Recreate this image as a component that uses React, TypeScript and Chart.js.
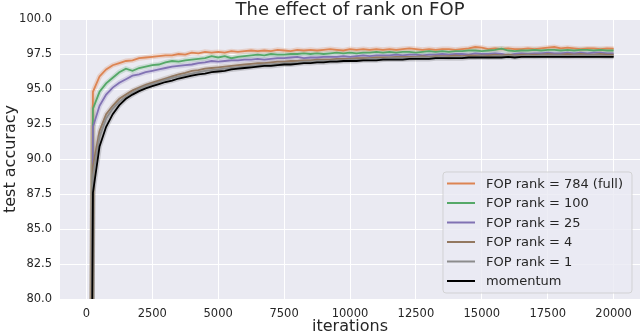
import React, { useEffect, useRef } from "react";
import { Chart, registerables } from "chart.js";

Chart.register(...registerables);

const iterations = [
  0, 250, 500, 750, 1000, 1250, 1500, 1750, 2000, 2250, 2500, 2750, 3000, 3250, 3500, 3750,
  4000, 4250, 4500, 4750, 5000, 5250, 5500, 5750, 6000, 6250, 6500, 6750, 7000, 7250, 7500, 7750,
  8000, 8250, 8500, 8750, 9000, 9250, 9500, 9750, 10000, 10250, 10500, 10750, 11000, 11250, 11500, 11750,
  12000, 12250, 12500, 12750, 13000, 13250, 13500, 13750, 14000, 14250, 14500, 14750, 15000, 15250, 15500, 15750,
  16000, 16250, 16500, 16750, 17000, 17250, 17500, 17750, 18000, 18250, 18500, 18750, 19000, 19250, 19500, 19750, 20000,
];

const rank784 = [
  10, 94.8, 95.9, 96.4, 96.7, 96.85, 97.0, 97.05, 97.2, 97.25, 97.3, 97.35, 97.4, 97.4, 97.5, 97.45,
  97.6, 97.55, 97.65, 97.6, 97.65, 97.6, 97.7, 97.65, 97.7, 97.75, 97.7, 97.75, 97.7, 97.8, 97.75, 97.7,
  97.8, 97.75, 97.8, 97.75, 97.8, 97.85, 97.8, 97.75, 97.85, 97.8, 97.85, 97.8, 97.85, 97.8, 97.85, 97.8,
  97.85, 97.9, 97.85, 97.8, 97.85, 97.8, 97.85, 97.85, 97.8, 97.85, 97.9, 98.0, 97.95, 97.85, 97.9, 97.85,
  97.9, 97.85, 97.85, 97.9, 97.85, 97.9, 97.95, 98.0, 97.9, 97.95, 97.9, 97.85, 97.9, 97.9, 97.85, 97.9, 97.88,
];

const rank100 = [
  10, 93.6, 94.8, 95.4, 95.8, 96.2, 96.45, 96.3, 96.5, 96.6, 96.7, 96.75, 96.9, 97.0, 96.95, 97.05,
  97.1, 97.15, 97.2, 97.35, 97.25, 97.35, 97.2, 97.3, 97.35, 97.4, 97.45, 97.4, 97.5, 97.45, 97.45, 97.5,
  97.5, 97.55, 97.5, 97.55, 97.5, 97.55, 97.6, 97.55, 97.6, 97.55, 97.6, 97.6, 97.65, 97.6, 97.65, 97.6,
  97.65, 97.65, 97.6, 97.65, 97.7, 97.65, 97.7, 97.65, 97.7, 97.7, 97.75, 97.75, 97.7, 97.75, 97.8, 97.88,
  97.75, 97.7, 97.75, 97.75, 97.8, 97.75, 97.8, 97.8, 97.75, 97.8, 97.75, 97.8, 97.8, 97.75, 97.8, 97.75, 97.75,
];

const rank25 = [
  10, 92.3, 93.8, 94.6, 95.1, 95.45, 95.7, 95.95, 96.05, 96.2, 96.3, 96.4, 96.5, 96.6, 96.65, 96.7,
  96.75, 96.85, 96.9, 97.0, 96.95, 97.0, 97.05, 97.05, 97.1, 97.1, 97.15, 97.1, 97.15, 97.2, 97.2, 97.25,
  97.3, 97.2, 97.25, 97.25, 97.3, 97.3, 97.3, 97.35, 97.3, 97.35, 97.4, 97.35, 97.4, 97.4, 97.4, 97.45,
  97.4, 97.45, 97.45, 97.4, 97.45, 97.45, 97.5, 97.45, 97.5, 97.5, 97.45, 97.55, 97.5, 97.5, 97.55, 97.5,
  97.38, 97.5, 97.55, 97.5, 97.55, 97.55, 97.6, 97.55, 97.55, 97.6, 97.55, 97.6, 97.55, 97.6, 97.6, 97.55, 97.55,
];

const rank4 = [
  10, 89.5, 92.0, 93.2, 93.8, 94.3, 94.6, 94.9, 95.1, 95.3, 95.45, 95.6, 95.75, 95.9, 96.05, 96.15,
  96.3, 96.35, 96.45, 96.5, 96.55, 96.6, 96.65, 96.7, 96.75, 96.8, 96.85, 96.85, 96.9, 96.95, 96.95, 97.0,
  97.0, 97.05, 97.05, 97.1, 97.1, 97.1, 97.15, 97.15, 97.15, 97.2, 97.2, 97.2, 97.25, 97.25, 97.25, 97.3,
  97.3, 97.3, 97.3, 97.35, 97.3, 97.35, 97.35, 97.35, 97.4, 97.35, 97.4, 97.4, 97.4, 97.4, 97.45, 97.4,
  97.45, 97.4, 97.45, 97.45, 97.45, 97.45, 97.5, 97.45, 97.45, 97.5, 97.45, 97.5, 97.45, 97.45, 97.5, 97.45, 97.45,
];

const rank1 = [
  10, 88.8, 91.6, 92.9, 93.6, 94.1, 94.45, 94.75, 95.0, 95.2, 95.35, 95.5, 95.65, 95.8, 95.9, 96.0,
  96.1, 96.2, 96.3, 96.35, 96.4, 96.45, 96.5, 96.55, 96.6, 96.65, 96.7, 96.75, 96.75, 96.8, 96.85, 96.85,
  96.9, 96.95, 96.95, 97.0, 97.0, 97.0, 97.05, 97.05, 97.1, 97.1, 97.1, 97.15, 97.15, 97.15, 97.2, 97.2,
  97.2, 97.2, 97.25, 97.25, 97.25, 97.25, 97.3, 97.25, 97.3, 97.3, 97.3, 97.3, 97.35, 97.3, 97.35, 97.35,
  97.35, 97.35, 97.35, 97.4, 97.35, 97.4, 97.4, 97.4, 97.4, 97.35, 97.4, 97.4, 97.4, 97.4, 97.4, 97.35, 97.35,
];

const momentum = [
  10, 87.6, 90.9, 92.3, 93.2, 93.85, 94.3, 94.6, 94.85, 95.05, 95.2, 95.35, 95.5, 95.6, 95.75, 95.85,
  95.95, 96.05, 96.1, 96.2, 96.25, 96.3, 96.4, 96.45, 96.5, 96.55, 96.6, 96.65, 96.65, 96.7, 96.75, 96.75,
  96.8, 96.85, 96.85, 96.9, 96.9, 96.95, 96.95, 97.0, 97.0, 97.0, 97.05, 97.05, 97.05, 97.1, 97.1, 97.1,
  97.1, 97.15, 97.15, 97.15, 97.15, 97.2, 97.2, 97.2, 97.2, 97.2, 97.25, 97.25, 97.25, 97.25, 97.25, 97.25,
  97.3, 97.25, 97.3, 97.3, 97.3, 97.3, 97.3, 97.3, 97.3, 97.3, 97.3, 97.3, 97.3, 97.3, 97.3, 97.3, 97.3,
];

const seriesLabels = [
  "FOP rank = 784 (full)",
  "FOP rank = 100",
  "FOP rank = 25",
  "FOP rank = 4",
  "FOP rank = 1",
  "momentum",
];
const seriesValues = [rank784, rank100, rank25, rank4, rank1, momentum];
const seriesColors = ["#DD8452", "#55A868", "#8172B3", "#937860", "#8C8C8C", "#000000"];
const haloColors = [
  "rgba(221,132,82,0.25)",
  "rgba(85,168,104,0.22)",
  "rgba(129,114,179,0.22)",
  "rgba(147,120,96,0.22)",
  "rgba(140,140,140,0.30)",
  "rgba(0,0,0,0.15)",
];

const xTicks = [0, 2500, 5000, 7500, 10000, 12500, 15000, 17500, 20000];
const yTicks = [80, 82.5, 85, 87.5, 90, 92.5, 95, 97.5, 100];

const titleText = "The effect of rank on FOP";
const xLabel = "iterations";
const yLabel = "test accuracy";

const FONT = "'DejaVu Sans', sans-serif";
const TEXT = "#262626";

const decorPlugin = {
  id: "decor",
  beforeDraw(chart: any) {
    const { ctx, chartArea: a } = chart;
    ctx.save();
    ctx.fillStyle = "#ffffff";
    ctx.fillRect(0, 0, chart.width, chart.height);
    ctx.fillStyle = "#EAEAF2";
    ctx.fillRect(a.left, a.top, a.right - a.left, a.bottom - a.top);
    ctx.restore();
  },
  afterDraw(chart: any) {
    const { ctx, chartArea: a } = chart;
    const cx = (a.left + a.right) / 2;
    const cy = (a.top + a.bottom) / 2;
    ctx.save();
    ctx.fillStyle = TEXT;
    // title
    ctx.font = `18px ${FONT}`;
    ctx.textAlign = "center";
    ctx.textBaseline = "alphabetic";
    ctx.fillText(titleText, cx, 15);
    // x label
    ctx.font = `16px ${FONT}`;
    ctx.fillText(xLabel, cx, 331);
    // y label
    ctx.save();
    ctx.translate(15, cy);
    ctx.rotate(-Math.PI / 2);
    ctx.fillText(yLabel, 0, 0);
    ctx.restore();

    // legend
    const bx = 443, by = 172, bw = 189, bh = 121, r = 3;
    ctx.beginPath();
    ctx.moveTo(bx + r, by);
    ctx.lineTo(bx + bw - r, by);
    ctx.quadraticCurveTo(bx + bw, by, bx + bw, by + r);
    ctx.lineTo(bx + bw, by + bh - r);
    ctx.quadraticCurveTo(bx + bw, by + bh, bx + bw - r, by + bh);
    ctx.lineTo(bx + r, by + bh);
    ctx.quadraticCurveTo(bx, by + bh, bx, by + bh - r);
    ctx.lineTo(bx, by + r);
    ctx.quadraticCurveTo(bx, by, bx + r, by);
    ctx.closePath();
    ctx.fillStyle = "rgba(234,234,242,0.8)";
    ctx.fill();
    ctx.strokeStyle = "rgba(204,204,204,0.8)";
    ctx.lineWidth = 1;
    ctx.stroke();

    ctx.font = `13px ${FONT}`;
    ctx.textAlign = "left";
    ctx.textBaseline = "middle";
    for (let i = 0; i < seriesLabels.length; i++) {
      const y = 183.5 + i * 19.5;
      ctx.strokeStyle = seriesColors[i];
      ctx.lineWidth = 2;
      ctx.beginPath();
      ctx.moveTo(447, y);
      ctx.lineTo(475, y);
      ctx.stroke();
      ctx.fillStyle = TEXT;
      ctx.fillText(seriesLabels[i], 486, y + 1);
    }
    ctx.restore();
  },
};

export default function App() {
  const canvasRef = useRef<HTMLCanvasElement | null>(null);

  useEffect(() => {
    const canvas = canvasRef.current;
    if (!canvas) return;

    const halos = seriesValues.map((vals, i) => ({
      label: "halo-" + seriesLabels[i],
      data: iterations.map((x, j) => ({ x, y: vals[j] })),
      borderColor: haloColors[i],
      borderWidth: 5,
      pointRadius: 0,
      fill: false,
      tension: 0,
      clip: 0,
      order: 20,
    }));
    const lines = seriesValues.map((vals, i) => ({
      label: seriesLabels[i],
      data: iterations.map((x, j) => ({ x, y: vals[j] })),
      borderColor: seriesColors[i],
      borderWidth: 1.8,
      pointRadius: 0,
      fill: false,
      tension: 0,
      clip: 0,
      order: 10 - i,
    }));

    const chart = new Chart(canvas, {
      type: "line",
      data: { datasets: [...halos, ...lines] as any },
      options: {
        responsive: false,
        animation: false,
        devicePixelRatio: 1,
        layout: { padding: { top: 19, right: 0, bottom: 0, left: 0 } },
        plugins: {
          legend: { display: false },
          title: { display: false },
          tooltip: { enabled: false },
        },
        scales: {
          x: {
            type: "linear",
            min: -1000,
            max: 21000,
            afterBuildTicks: (scale: any) => {
              scale.ticks = xTicks.map((v) => ({ value: v }));
            },
            afterFit: (scale: any) => {
              scale.height = 37;
            },
            grid: { color: "#ffffff", lineWidth: 1, drawTicks: false },
            border: { display: false },
            ticks: {
              padding: 8,
              color: TEXT,
              font: { family: FONT, size: 11.5 },
              maxRotation: 0,
              autoSkip: false,
              callback: (v: any) => String(v),
            },
          },
          y: {
            type: "linear",
            min: 80,
            max: 100,
            afterBuildTicks: (scale: any) => {
              scale.ticks = yTicks.map((v) => ({ value: v }));
            },
            afterFit: (scale: any) => {
              scale.width = 60;
            },
            grid: { color: "#ffffff", lineWidth: 1, drawTicks: false },
            border: { display: false },
            ticks: {
              padding: 8,
              color: TEXT,
              font: { family: FONT, size: 11.5 },
              autoSkip: false,
              callback: (v: any) => Number(v).toFixed(1),
            },
          },
        },
      },
      plugins: [decorPlugin],
    });

    return () => chart.destroy();
  }, []);

  return (
    <div style={{ position: "fixed", left: 0, top: 0, width: 640, height: 336, background: "#fff" }}>
      <canvas ref={canvasRef} width={640} height={336} style={{ display: "block" }} />
    </div>
  );
}
